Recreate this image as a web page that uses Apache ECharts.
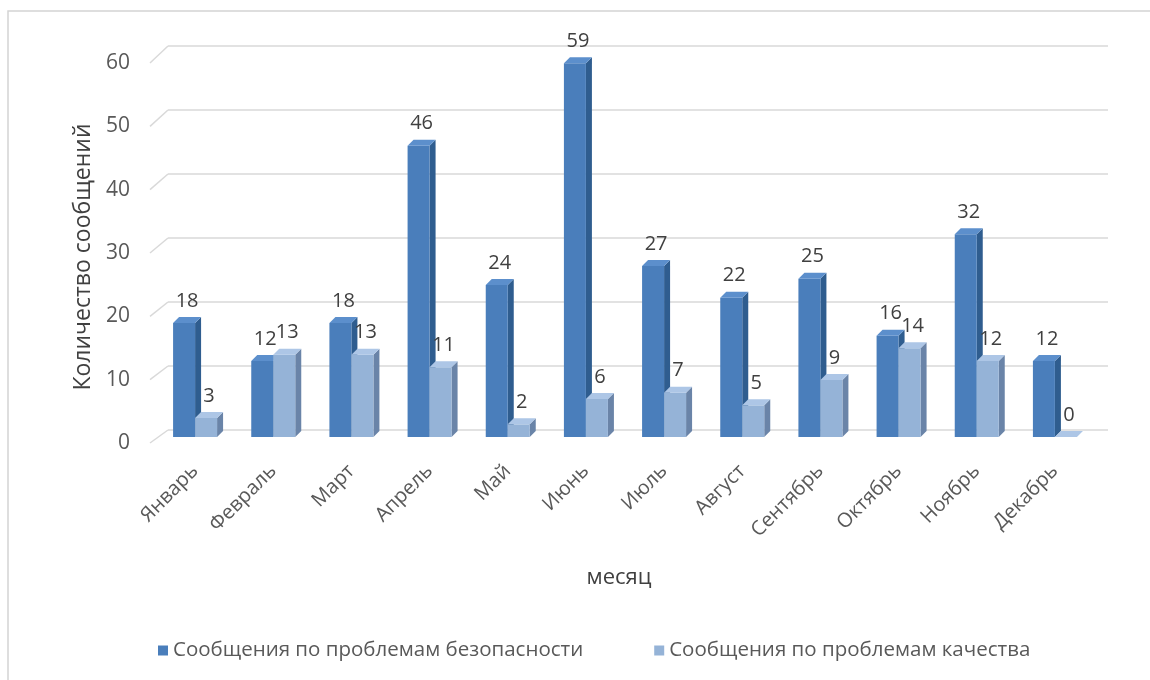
<!DOCTYPE html>
<html>
<head>
<meta charset="utf-8">
<script src="https://cdn.jsdelivr.net/npm/echarts@6/dist/echarts.min.js"></script>
<style>html,body{margin:0;padding:0;background:#fff}#c{width:1150px;height:680px}</style>
</head>
<body>
<div id="c"></div>
<script>
const months = ['Январь','Февраль','Март','Апрель','Май','Июнь','Июль','Август','Сентябрь','Октябрь','Ноябрь','Декабрь'];
const safety = [18,12,18,46,24,59,27,22,25,16,32,12];
const quality = [3,13,13,11,2,6,7,5,9,14,12,0];
const yTicks = [0,10,20,30,40,50,60];
const seriesNames = ['Сообщения по проблемам безопасности','Сообщения по проблемам качества'];

const FONT = '"Open Sans", "Noto Sans", sans-serif';
const BAR_W = 22, DX = 6, DY = -6;
const palettes = [
  {front:'#4a7ebb', side:'#2f5d8f', top:'#5c8fcc', legend:'#4a7ebb'},
  {front:'#95b3d7', side:'#6a84a8', top:'#adc6e6', legend:'#95b3d7'}
];

function barRenderer(k){
  return function(params, api){
    const idx = api.value(0), val = api.value(1);
    const p = api.coord([idx, val]);
    const b = api.coord([idx, 0]);
    const c = palettes[k];
    const x0 = k === 0 ? p[0] - BAR_W : p[0];
    const x1 = x0 + BAR_W;
    const top = p[1], base = b[1];
    return {
      type:'group',
      children:[
        {type:'polygon', shape:{points:[[x1,top],[x1+DX,top+DY],[x1+DX,base+DY],[x1,base]]}, style:{fill:c.side}},
        {type:'rect', shape:{x:x0, y:top, width:BAR_W, height:base-top}, style:{fill:c.front}},
        {type:'polygon', shape:{points:[[x0,top],[x0+DX,top+DY],[x1+DX,top+DY],[x1,top]]}, style:{fill:c.top}},
        {type:'text', style:{text:String(val), x:(x0+x1)/2+3, y:top-12, align:'center', verticalAlign:'bottom', fill:'#404040', font:'20px ' + FONT}}
      ]
    };
  };
}

const chart = echarts.init(document.getElementById('c'), null, {renderer:'canvas'});
chart.setOption({
  animation:false,
  backgroundColor:'#ffffff',
  grid:[
    {left:168, right:42, top:46, bottom:250},
    {left:156, right:56, top:57, bottom:243},
    {left:150, right:56, top:63, bottom:237}
  ],
  xAxis:[
    {gridIndex:0, type:'category', data:months, show:false},
    {gridIndex:1, type:'category', data:months,
      axisLine:{show:false}, axisTick:{show:false},
      axisLabel:{rotate:45, margin:31, color:'#595959', fontSize:20, fontFamily:FONT, interval:0}},
    {gridIndex:2, type:'value', min:0, max:1, show:false}
  ],
  yAxis:[
    {gridIndex:0, type:'value', min:0, max:60, interval:10, axisLabel:{show:false}, axisLine:{show:false}, axisTick:{show:false},
      splitLine:{show:true, lineStyle:{color:'#d9d9d9', width:1.5}}},
    {gridIndex:1, type:'value', min:0, max:60, interval:10, show:false},
    {gridIndex:2, type:'value', min:0, max:60, interval:10, axisLine:{show:false}, axisTick:{show:false}, splitLine:{show:false},
      axisLabel:{margin:20, color:'#595959', fontSize:21, fontFamily:FONT}}
  ],
  legend:{
    left:153, top:635, itemWidth:10, itemHeight:10, itemGap:71, icon:'rect',
    textStyle:{color:'#595959', fontSize:20.5, fontFamily:FONT},
    data:[{name:seriesNames[0], itemStyle:{color:palettes[0].legend}}, {name:seriesNames[1], itemStyle:{color:palettes[1].legend}}]
  },
  series:[
    {type:'custom', name:'ticks', xAxisIndex:2, yAxisIndex:2, data:yTicks.map(v=>[0,v]), silent:true,
      renderItem:function(params, api){
        const v = api.value(1);
        const p = api.coord([0, v]);
        return {type:'line', shape:{x1:p[0], y1:p[1], x2:p[0]+18, y2:p[1]-13-v/60*4}, style:{stroke:'#d9d9d9', lineWidth:1.5}};
      }},
    {type:'custom', name:seriesNames[0], xAxisIndex:1, yAxisIndex:1, itemStyle:{color:palettes[0].legend},
      data:safety.map((v,i)=>[i,v]), encode:{x:0,y:1}, renderItem:barRenderer(0)},
    {type:'custom', name:seriesNames[1], xAxisIndex:1, yAxisIndex:1, itemStyle:{color:palettes[1].legend},
      data:quality.map((v,i)=>[i,v]), encode:{x:0,y:1}, renderItem:barRenderer(1)}
  ],
  graphic:[
    {type:'rect', shape:{x:8, y:11, width:1170, height:700}, style:{fill:'none', stroke:'#d4d4d4', lineWidth:1.5}, silent:true},
    {type:'text', x:83, y:257, rotation:Math.PI/2, style:{text:'Количество сообщений', align:'center', verticalAlign:'middle', fill:'#404040', font:'23px ' + FONT}},
    {type:'text', x:619, y:578, style:{text:'месяц', align:'center', verticalAlign:'middle', fill:'#404040', font:'22px ' + FONT}}
  ]
});
</script>
</body>
</html>
